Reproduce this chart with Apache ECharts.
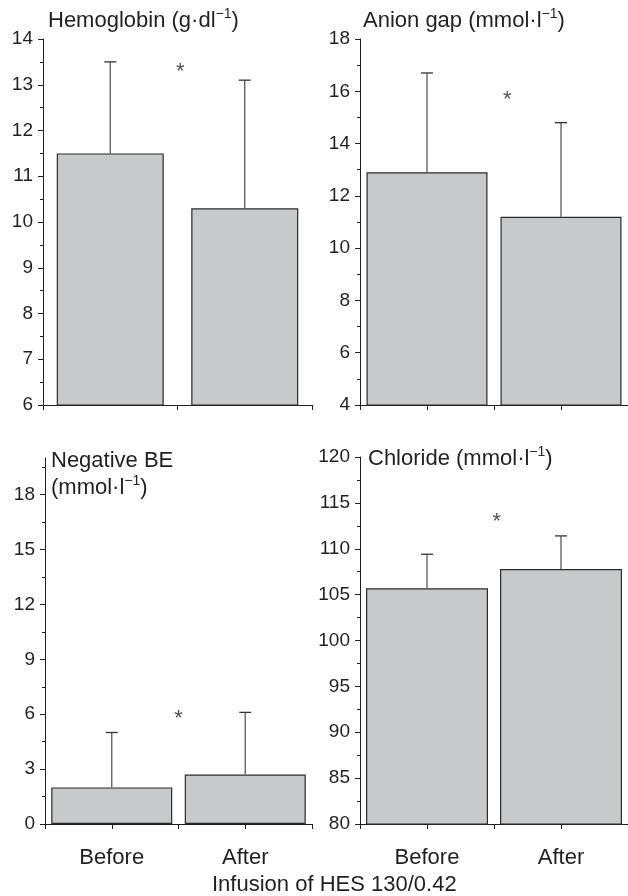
<!DOCTYPE html>
<html><head><meta charset="utf-8">
<script src="https://cdn.jsdelivr.net/npm/echarts@6/dist/echarts.min.js"></script>
<style>html,body{margin:0;padding:0;background:#fff}#c{width:628px;height:896px}</style>
</head><body><div id="c"></div>
<script>
// ---- data ----
const categories = ['Before', 'After'];
const hemoglobinMean = [11.5, 10.3];
const hemoglobinUpper = [13.5, 13.1];
const anionGapMean = [12.9, 11.2];
const anionGapUpper = [16.7, 14.8];
const negBEMean = [2.0, 2.7];
const negBEUpper = [5.0, 6.1];
const chlorideMean = [105.7, 107.8];
const chlorideUpper = [109.4, 111.4];
const hemoglobinTicks = [6, 7, 8, 9, 10, 11, 12, 13, 14];
const anionGapTicks = [4, 6, 8, 10, 12, 14, 16, 18];
const negBETicks = [0, 3, 6, 9, 12, 15, 18];
const chlorideTicks = [80, 85, 90, 95, 100, 105, 110, 115, 120];
const asteriskY = [13.4, 15.85, 6.0, 113.5];
const asteriskX = [1.02, 1.1, 1.0, 1.02];
const panelTitles = [
  '{n|Hemoglobin (g·dl}{s|−1}{n|)}',
  '{n|Anion gap (mmol·l}{s|−1}{n|)}',
  '{n|Negative BE}\n{n|(mmol·l}{s|−1}{n|)}',
  '{n|Chloride (mmol·l}{s|−1}{n|)}'
];
const xAxisTitle = 'Infusion of HES 130/0.42';

// ---- layout / style ----
const FONT = 'Liberation Sans, Arial, Helvetica, sans-serif';
const INK = '#231f20';
const panels = [
  {mean: hemoglobinMean, upper: hemoglobinUpper, ticks: hemoglobinTicks, min: 6, max: 14, minorStep: 0.5,
   grid: {left: 43, top: 39, width: 269, height: 366}, barWidth: 107, centerTicks: false, showLabels: false,
   title: {left: 48, top: 7}},
  {mean: anionGapMean, upper: anionGapUpper, ticks: anionGapTicks, min: 4, max: 18, minorStep: 1,
   grid: {left: 360, top: 39, width: 268, height: 366}, barWidth: 121, centerTicks: true, showLabels: false,
   title: {left: 363, top: 7}},
  {mean: negBEMean, upper: negBEUpper, ticks: negBETicks, min: 0, max: 20, minorStep: 1.5,
   grid: {left: 45, top: 458, width: 267, height: 366}, barWidth: 121, centerTicks: true, showLabels: true,
   title: {left: 51, top: 447}},
  {mean: chlorideMean, upper: chlorideUpper, ticks: chlorideTicks, min: 80, max: 120, minorStep: 2.5,
   grid: {left: 360, top: 457, width: 268, height: 367}, barWidth: 122, centerTicks: true, showLabels: true,
   title: {left: 368, top: 445}}
];

function minorValues(p) {
  const out = [];
  for (let k = 1; p.min + k * p.minorStep <= p.max + 1e-9; k++) {
    const v = +(p.min + k * p.minorStep).toFixed(4);
    if (p.ticks.indexOf(v) < 0) out.push(v);
  }
  return out;
}

const richStyle = {
  n: {fontSize: 22, fontWeight: 'normal', fontFamily: FONT, color: INK, lineHeight: 27},
  s: {fontSize: 14, fontWeight: 'normal', fontFamily: FONT, color: INK, verticalAlign: 'top', lineHeight: 15}
};

const grid = [], xAxis = [], yAxis = [], series = [], title = [];
panels.forEach((p, i) => {
  grid.push(Object.assign({containLabel: false}, p.grid));
  title.push({left: p.title.left, top: p.title.top, text: panelTitles[i], padding: 0,
    textStyle: {fontWeight: 'normal', fontSize: 22, fontFamily: FONT, color: INK, rich: richStyle}});
  const xBase = xAxis.length;
  // main category axis: boundary ticks
  xAxis.push({type: 'category', gridIndex: i, position: 'bottom', data: categories, boundaryGap: true,
    axisLine: {lineStyle: {color: INK, width: 1}},
    axisTick: {show: true, interval: 0, length: 5, lineStyle: {color: INK}},
    axisLabel: {show: p.showLabels, fontSize: 22, fontFamily: FONT, color: INK, margin: 23},
    splitLine: {show: false}});
  // overlay: ticks at category centres
  xAxis.push({type: 'category', gridIndex: i, position: 'bottom', data: categories, boundaryGap: true,
    axisLine: {show: false},
    axisTick: {show: p.centerTicks, alignWithLabel: true, interval: 0, length: 5, lineStyle: {color: INK}},
    axisLabel: {show: false}, splitLine: {show: false}});
  // hidden value axis for the asterisk
  xAxis.push({type: 'value', gridIndex: i, position: 'bottom', min: 0, max: 2, show: false});
  const yBase = yAxis.length;
  yAxis.push({type: 'value', gridIndex: i, min: p.min, max: p.max, position: 'left',
    axisLine: {show: true, lineStyle: {color: INK, width: 1}},
    axisTick: {show: true, length: 5, customValues: p.ticks, lineStyle: {color: INK}},
    axisLabel: {customValues: p.ticks, fontSize: 19, fontFamily: FONT, color: INK, margin: 10},
    splitLine: {show: false}});
  yAxis.push({type: 'value', gridIndex: i, min: p.min, max: p.max, position: 'left',
    axisLine: {show: false},
    axisTick: {show: true, length: 3, customValues: minorValues(p), lineStyle: {color: INK}},
    axisLabel: {show: false}, splitLine: {show: false}});
  series.push({type: 'bar', xAxisIndex: xBase, yAxisIndex: yBase, data: p.mean, barWidth: p.barWidth,
    itemStyle: {color: '#c8c9cb', borderColor: '#2b2b2b', borderWidth: 1.2}, silent: true, z: 2});
  series.push({type: 'custom', xAxisIndex: xBase, yAxisIndex: yBase, z: 3, silent: true,
    data: p.mean.map((m, k) => [k, m, p.upper[k]]),
    renderItem: function (params, api) {
      const a = api.coord([api.value(0), api.value(1)]);
      const b = api.coord([api.value(0), api.value(2)]);
      const cap = 6;
      return {type: 'group', children: [
        {type: 'line', shape: {x1: a[0], y1: a[1], x2: b[0], y2: b[1]}, style: {stroke: '#5a5a5a', lineWidth: 1.3}},
        {type: 'line', shape: {x1: b[0] - cap, y1: b[1], x2: b[0] + cap, y2: b[1]}, style: {stroke: '#333', lineWidth: 1.3}}
      ]};
    }});
  series.push({type: 'scatter', xAxisIndex: xBase + 2, yAxisIndex: yBase, symbolSize: 1, silent: true,
    itemStyle: {color: 'rgba(0,0,0,0)'},
    data: [[asteriskX[i], asteriskY[i]]],
    label: {show: true, position: 'inside', formatter: '*', fontSize: 22, fontFamily: FONT, color: INK, offset: [0, 5]}});
});
title.push({left: 212, top: 874, text: xAxisTitle, padding: 0,
  textStyle: {fontSize: 22, fontWeight: 'normal', fontFamily: FONT, color: INK}});

const chart = echarts.init(document.getElementById('c'), null, {renderer: 'canvas'});
chart.setOption({animation: false, backgroundColor: '#fff', title, grid, xAxis, yAxis, series});
</script></body></html>
